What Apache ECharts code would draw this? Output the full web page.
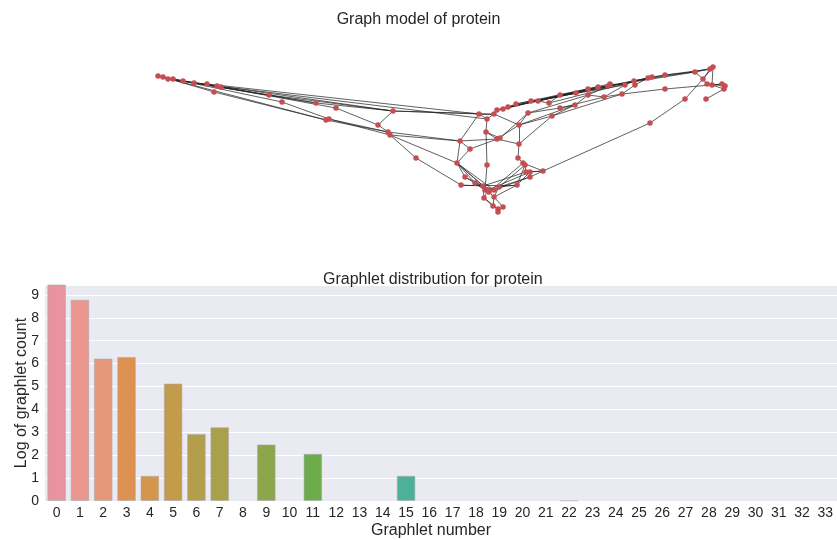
<!DOCTYPE html>
<html>
<head>
<meta charset="utf-8">
<script src="https://cdn.jsdelivr.net/npm/echarts@6/dist/echarts.min.js"></script>
<style>
	html, body { margin: 0; padding: 0; background: #fff; }
	#main { width: 837px; height: 540px; }
</style>
</head>
<body>
<div id="main"></div>
<script>
// graphlet bars
var graphletIds = ['0', '1', '2', '3', '4', '5', '6', '7', '8', '9', '10', '11', '12', '13', '14', '15', '16',
	'17', '18', '19', '20', '21', '22', '23', '24', '25', '26', '27', '28', '29', '30', '31', '32', '33'];
var logCounts = [9.6, 8.79, 6.22, 6.29, 1.1, 5.13, 2.93, 3.22, 0, 2.47, 0, 2.06, 0, 0, 0, 1.1, 0,
	0, 0, 0, 0, 0, 0.03, 0, 0, 0, 0, 0, 0, 0, 0, 0, 0, 0];
var barColors = ['#e893a0', '#e8968e', '#e5977b', '#de9150', '#d4964c', '#c29b4b', '#b49e4b', '#a9a04b',
	'#9ca34b', '#8ca64b', '#7da94b', '#6dac4b', '#55ae6a', '#4fae80', '#4eaf8e', '#4db098', '#4dafa6',
	'#4eaeb3', '#50acbf', '#53a9cc', '#5aa5d8', '#679fe2', '#7a98e8', '#8f91ea', '#a28ae8', '#b285e3',
	'#c080dc', '#cc7cd2', '#d77ac6', '#de7ab9', '#e27dad', '#e585a8', '#e78aa4', '#e88fa2'];
var yTicks = [0, 1, 2, 3, 4, 5, 6, 7, 8, 9];

// protein graph: node layout positions and edges
var nodes = [
	[158, 76], [163, 77], [168, 79], [173, 79], [183, 81], [194, 83], [207, 84], [217, 86], [221, 87], [214, 92],
	[269, 95], [282, 102], [316, 103], [336, 108], [326, 120], [329, 119], [393, 111], [378, 125], [388, 132], [390, 135],
	[416, 158], [479, 114], [487, 119], [494, 114], [497, 110], [503, 109], [508, 107], [516, 104], [531, 101], [538, 101],
	[549, 103], [560, 95], [576, 93], [528, 113], [519, 125], [552, 116], [560, 108], [575, 105], [486, 132], [497, 139],
	[500, 138], [460, 141], [470, 149], [519, 144], [457, 163], [487, 165], [518, 158], [523, 163], [525, 165], [526, 172],
	[530, 172], [530, 177], [543, 171], [465, 177], [461, 185], [475, 183], [483, 186], [485, 190], [488, 190], [489, 192],
	[494, 190], [499, 187], [517, 185], [484, 198], [494, 197], [493, 206], [498, 209], [498, 212], [503, 207], [588, 89],
	[598, 87], [608, 86], [610, 84], [625, 85], [634, 81], [648, 78], [652, 77], [665, 75], [695, 72], [710, 69],
	[713, 67], [703, 79], [707, 84], [712, 85], [722, 84], [725, 86], [724, 89], [665, 89], [635, 85], [622, 94],
	[604, 97], [588, 95], [685, 99], [706, 99], [650, 123]
];
var edges = [
	[0, 1], [1, 2], [2, 3], [3, 4], [4, 5], [5, 6], [6, 7], [7, 8], [0, 2], [1, 3],
	[1, 9], [9, 14], [0, 14], [3, 11], [11, 15], [2, 10], [10, 16], [4, 16], [5, 12], [12, 16],
	[6, 21], [7, 22], [8, 13], [13, 17], [16, 21], [16, 23], [3, 12],
	[16, 17], [17, 18], [18, 19], [14, 15], [14, 18], [15, 19], [15, 18],
	[19, 20], [19, 44], [18, 41], [19, 41], [20, 54],
	[21, 22], [21, 23], [22, 23], [23, 24], [24, 25], [25, 26], [26, 27], [27, 28], [28, 29], [29, 30], [30, 31], [31, 32],
	[21, 41], [22, 38], [38, 45], [45, 57], [23, 34], [38, 39], [38, 40],
	[39, 40], [39, 34], [40, 33], [33, 34], [34, 43], [34, 35], [33, 36], [36, 37], [35, 37], [43, 35],
	[41, 42], [41, 39], [42, 40], [42, 44], [41, 44],
	[43, 46], [46, 47], [47, 48], [48, 49], [49, 50], [50, 51], [49, 52], [50, 52], [51, 52], [47, 52], [43, 39],
	[44, 53], [44, 55], [44, 56], [44, 58], [44, 60], [53, 56], [53, 59], [54, 62], [54, 56], [55, 57], [55, 60],
	[62, 64], [62, 48], [62, 50], [49, 56], [50, 58], [51, 60], [51, 61], [48, 61], [47, 59],
	[56, 57], [57, 58], [58, 59], [59, 60], [60, 61], [56, 63], [58, 63], [59, 64], [61, 64], [63, 65], [64, 65],
	[65, 66], [66, 67], [67, 68], [64, 68], [63, 66], [61, 62], [52, 94],
	[32, 69], [69, 70], [70, 71], [71, 72], [72, 73], [73, 74], [74, 75], [75, 76], [76, 77], [77, 78], [78, 79],
	[79, 80], [80, 81], [78, 81], [79, 81],
	[24, 69], [26, 71], [28, 73], [29, 74], [31, 75], [25, 70], [27, 72], [30, 76], [32, 77], [24, 31], [26, 32],
	[71, 78], [74, 79], [77, 79],
	[37, 91], [91, 90], [90, 89], [89, 88], [89, 87], [87, 84], [36, 90], [35, 89], [33, 91], [34, 37],
	[90, 73], [88, 75], [91, 71],
	[81, 82], [82, 83], [83, 84], [84, 85], [85, 86], [84, 86], [83, 86], [80, 83], [82, 85], [86, 93], [81, 92], [92, 94]
];

var myChart = echarts.init(document.getElementById('main'));
var font = 'Liberation Sans, Arial, sans-serif';

myChart.setOption({
	animation: false,
	textStyle: { fontFamily: font },
	title: [{
		text: 'Graph model of protein',
		left: 'center',
		top: 7,
		textStyle: { fontSize: 16, fontWeight: 'normal', color: '#262626', fontFamily: font }
	}, {
		text: 'Graphlet distribution for protein',
		left: 318,
		top: 267,
		textStyle: { fontSize: 16, fontWeight: 'normal', color: '#262626', fontFamily: font }
	}],
	grid: [{
		left: 45,
		right: -2,
		top: 285,
		bottom: 38,
		show: true,
		backgroundColor: '#eaeaf2',
		borderWidth: 0
	}, {
		left: 0,
		right: 0,
		top: 0,
		height: 260
	}],
	xAxis: [{
		type: 'category',
		data: graphletIds,
		gridIndex: 0,
		name: 'Graphlet number',
		nameLocation: 'middle',
		nameGap: 22,
		nameTextStyle: { fontSize: 16, color: '#262626', padding: [0, 20, 0, 0] },
		axisLine: { show: false },
		axisTick: { show: false },
		axisLabel: { fontSize: 14, color: '#262626', margin: 5, interval: 0 }
	}, {
		type: 'value',
		gridIndex: 1,
		min: 0,
		max: 837,
		show: false
	}],
	yAxis: [{
		type: 'value',
		gridIndex: 0,
		min: 0,
		max: 9.43,
		interval: 1,
		name: 'Log of graphlet count',
		nameLocation: 'middle',
		nameGap: 15,
		nameMoveOverlap: false,
		nameTextStyle: { fontSize: 16, color: '#262626' },
		axisLine: { show: false },
		axisTick: { show: false },
		axisLabel: {
			fontSize: 14,
			color: '#262626',
			margin: 6,
			showMaxLabel: false,
			formatter: function(v) {
				return yTicks.indexOf(v) >= 0 ? String(v) : '';
			}
		},
		splitLine: { lineStyle: { color: '#ffffff', width: 1 } }
	}, {
		type: 'value',
		gridIndex: 1,
		min: 0,
		max: 260,
		inverse: true,
		show: false
	}],
	series: [{
		type: 'bar',
		xAxisIndex: 0,
		yAxisIndex: 0,
		barCategoryGap: '20%',
		data: logCounts.map(function(v, i) {
			return {
				value: v,
				itemStyle: {
					color: barColors[i],
					borderColor: v > 0.05 ? 'rgba(170,170,170,0.55)' : 'rgba(200,200,210,0.9)',
					borderWidth: v > 0 ? 1 : 0
				}
			};
		})
	}, {
		type: 'graph',
		coordinateSystem: 'cartesian2d',
		xAxisIndex: 1,
		yAxisIndex: 1,
		symbol: 'circle',
		symbolSize: 5.5,
		label: { show: false },
		itemStyle: { color: '#c44e52' },
		lineStyle: { color: '#222222', width: 0.8, opacity: 0.9, curveness: 0 },
		data: nodes.map(function(p) {
			return { value: p };
		}),
		links: edges.map(function(e) {
			return { source: e[0], target: e[1] };
		})
	}]
});
</script>
</body>
</html>
